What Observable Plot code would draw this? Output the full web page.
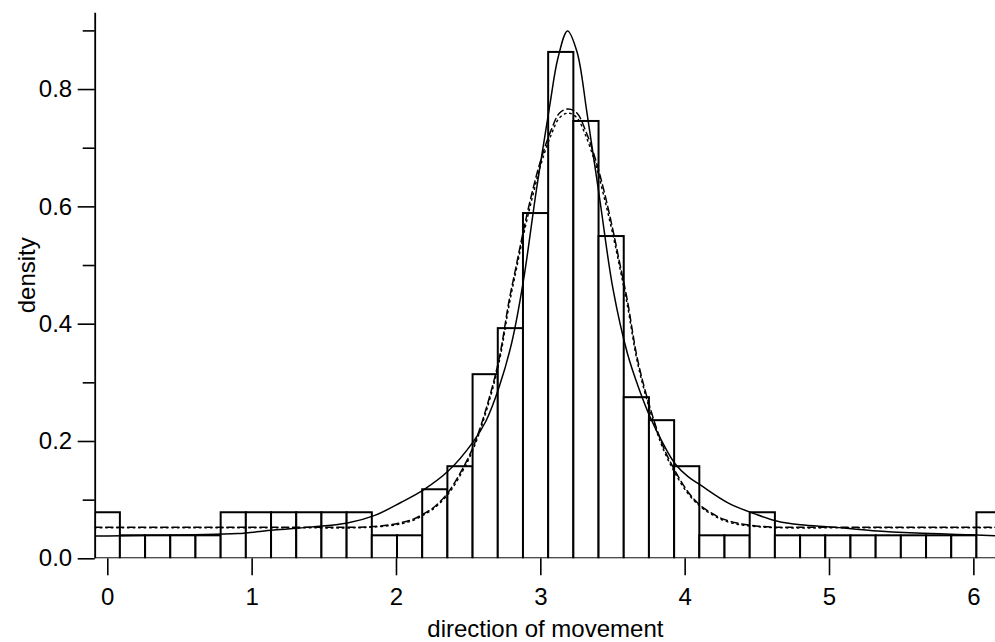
<!DOCTYPE html>
<html>
<head>
<meta charset="utf-8">
<script src="https://cdn.jsdelivr.net/npm/d3@7"></script>
<script src="https://cdn.jsdelivr.net/npm/@observablehq/plot@0.6"></script>
<style>
  html, body { margin: 0; padding: 0; background: #fff; }
  #chart svg { display: block; }
</style>
</head>
<body>
<div id="chart"></div>
<script>
// Histogram: bins of 10 degrees, centred on multiples of 10 degrees
const binCentersDeg = [0,10,20,30,40,50,60,70,80,90,100,110,120,130,140,150,160,170,
                       180,190,200,210,220,230,240,250,260,270,280,290,300,310,320,330,340,350];
const binDensity = [0.0785,0.0392,0.0392,0.0392,0.0392,0.0785,0.0785,0.0785,0.0785,0.0785,0.0785,0.0392,
                    0.0392,0.1177,0.1570,0.3139,0.3924,0.5886,0.8633,0.7456,0.5494,0.2747,0.2355,0.1570,
                    0.0392,0.0392,0.0785,0.0392,0.0392,0.0392,0.0392,0.0392,0.0392,0.0392,0.0392,0.0785];

// Solid fitted density
const solidX = [-0.09,0.00,0.30,0.60,0.90,1.15,1.40,1.66,1.85,2.03,2.19,2.36,2.53,2.62,2.71,2.80,2.88,2.97,3.06,3.12,3.185,
                3.25,3.32,3.41,3.50,3.60,3.68,3.76,3.85,3.93,4.02,4.11,4.30,4.50,4.64,4.80,5.02,5.30,5.60,5.98,6.20];
const solidY = [0.039,0.039,0.040,0.041,0.043,0.049,0.054,0.061,0.074,0.096,0.118,0.150,0.199,0.235,0.292,0.370,0.475,0.630,0.770,0.855,0.900,
                0.865,0.760,0.610,0.460,0.350,0.290,0.240,0.195,0.162,0.140,0.125,0.095,0.075,0.064,0.058,0.054,0.048,0.044,0.041,0.039];

// Dashed fitted density
const dashX = [-0.09,0.60,1.20,1.74,1.89,2.02,2.12,2.19,2.27,2.36,2.45,2.53,2.62,2.71,2.78,2.83,2.88,2.94,3.00,3.07,3.13,3.19,
               3.25,3.31,3.38,3.44,3.50,3.55,3.60,3.67,3.76,3.85,3.93,4.02,4.11,4.19,4.26,4.36,4.49,4.64,5.20,5.80,6.20];
const dashY = [0.054,0.054,0.054,0.054,0.056,0.061,0.068,0.077,0.090,0.114,0.150,0.190,0.255,0.340,0.440,0.500,0.560,0.625,0.680,0.730,0.760,0.767,
               0.760,0.730,0.680,0.625,0.560,0.500,0.440,0.340,0.255,0.190,0.150,0.114,0.090,0.077,0.068,0.061,0.056,0.054,0.054,0.054,0.054];

// Dotted fitted density
const dotX = [-0.09,0.60,1.20,1.74,1.89,2.02,2.12,2.19,2.27,2.36,2.45,2.53,2.62,2.71,2.78,2.83,2.88,2.94,3.00,3.07,3.13,3.19,
              3.25,3.31,3.38,3.44,3.50,3.55,3.60,3.67,3.76,3.85,3.93,4.02,4.11,4.19,4.26,4.36,4.49,4.64,5.20,5.80,6.20];
const dotY = [0.053,0.053,0.053,0.053,0.055,0.059,0.066,0.075,0.088,0.111,0.146,0.186,0.250,0.334,0.432,0.493,0.552,0.615,0.672,0.722,0.752,0.760,
              0.752,0.722,0.672,0.615,0.552,0.493,0.432,0.334,0.250,0.186,0.146,0.111,0.088,0.075,0.066,0.059,0.055,0.053,0.053,0.053,0.053];

const xTicks = [0,1,2,3,4,5,6];
const yMajorTicks = [0,0.2,0.4,0.6,0.8];
const yMinorTicks = [0.1,0.3,0.5,0.7,0.9];
const xLabel = "direction of movement";
const yLabel = "density";

const binWidth = Math.PI / 18;
const bins = binCentersDeg.map((d, i) => ({
  x1: d * Math.PI / 180 - binWidth / 2,
  x2: d * Math.PI / 180 + binWidth / 2,
  y: binDensity[i]
}));
const solid = solidX.map((x, i) => ({x, y: solidY[i]}));
const dashed = dashX.map((x, i) => ({x, y: dashY[i]}));
const dotted = dotX.map((x, i) => ({x, y: dotY[i]}));

const xMin = -binWidth / 2, xMax = 6.15, yMax = 0.93;
const FS = 24;

const chart = Plot.plot({
  width: 995,
  height: 642,
  marginLeft: 94.7,
  marginRight: 0,
  marginTop: 12.8,
  marginBottom: 83.7,
  x: {domain: [xMin, xMax]},
  y: {domain: [0, yMax]},
  style: {fontFamily: "'Liberation Sans', Arial, Helvetica, sans-serif", fontSize: FS + "px", color: "black", background: "white"},
  marks: [
    Plot.rectY(bins, {x1: "x1", x2: "x2", y: "y", fill: "white", stroke: "black", strokeWidth: 2, clip: true}),
    Plot.line(solid, {x: "x", y: "y", stroke: "black", strokeWidth: 1.5, curve: "catmull-rom", clip: true}),
    Plot.line(dashed, {x: "x", y: "y", stroke: "black", strokeWidth: 1.5, strokeDasharray: "7,4", curve: "catmull-rom", clip: true}),
    Plot.line(dotted, {x: "x", y: "y", stroke: "black", strokeWidth: 1.5, strokeDasharray: "1.5,4", curve: "catmull-rom", clip: true}),
    Plot.ruleX([xMin], {y1: 0, y2: yMax, stroke: "black", strokeWidth: 1.8}),
    Plot.axisY({ticks: yMajorTicks, tickSize: 17, tickPadding: 6, tickFormat: d => d.toFixed(1), label: null, strokeWidth: 1.6}),
    Plot.axisY({ticks: yMinorTicks, tickSize: 12, tickFormat: () => "", label: null, strokeWidth: 1.6}),
    Plot.axisX({ticks: xTicks, tickSize: 17, tickPadding: 12, tickFormat: d => String(d), label: null, strokeWidth: 1.6}),
    Plot.text([xLabel], {frameAnchor: "bottom", textAnchor: "middle", lineAnchor: "bottom", dy: 78, fontSize: FS}),
    Plot.text([yLabel], {frameAnchor: "top-left", textAnchor: "middle", lineAnchor: "bottom", rotate: -90, dx: -59.7, dy: 262, fontSize: FS})
  ]
});
document.getElementById("chart").appendChild(chart);
</script>
</body>
</html>
